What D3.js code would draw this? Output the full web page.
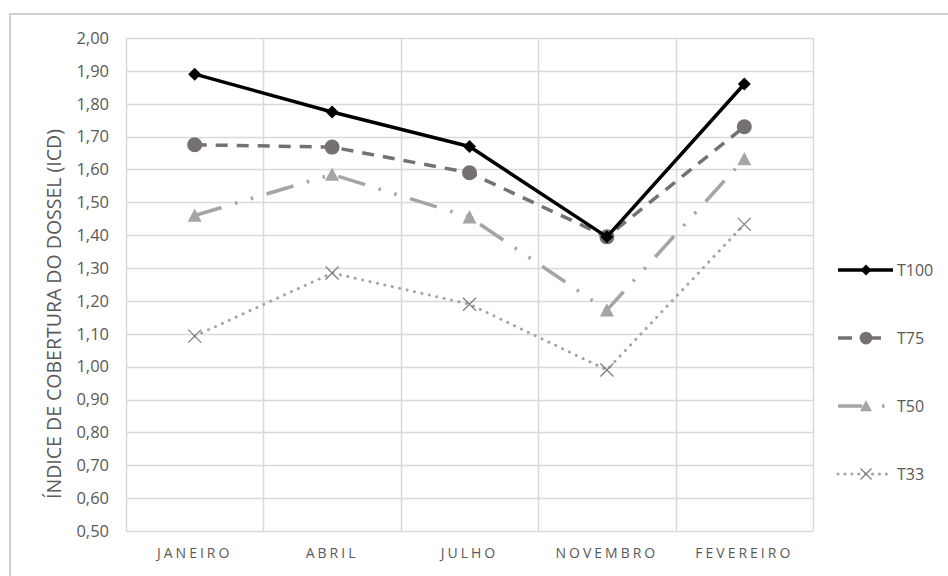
<!DOCTYPE html>
<html>
<head>
<meta charset="utf-8">
<script src="https://cdn.jsdelivr.net/npm/d3@7"></script>
<style>
  html, body { margin: 0; padding: 0; background: #fff; }
  svg { display: block; font-family: "Open Sans", sans-serif; }
</style>
</head>
<body>
<svg id="chart" width="948" height="576"></svg>
<script>
// Meses de avaliação
const months = ["JANEIRO", "ABRIL", "JULHO", "NOVEMBRO", "FEVEREIRO"];

// Índice de cobertura do dossel por tratamento
const t100 = [1.89, 1.775, 1.67, 1.395, 1.86];
const t75  = [1.675, 1.668, 1.59, 1.395, 1.73];
const t50  = [1.46, 1.585, 1.455, 1.172, 1.632];
const t33  = [1.093, 1.285, 1.19, 0.99, 1.433];

const seriesNames = ["T100", "T75", "T50", "T33"];
const yTicks = d3.range(0.5, 2.0001, 0.1);

const seriesList = [
  { name: seriesNames[0], values: t100, color: "#000000", width: 3.5, dash: null, legendDash: null, cap: "butt", marker: "diamond", mcolor: "#000000", lx2: 893 },
  { name: seriesNames[1], values: t75, color: "#767171", width: 3.5, dash: "12,9", legendDash: "14,20,9,40", cap: "butt", marker: "circle", mcolor: "#767171", lx2: 881 },
  { name: seriesNames[2], values: t50, color: "#a5a5a5", width: 3.5, dash: "28,14,2.5,14,2.5,14", legendDash: "24,20,2.5,40", cap: "butt", marker: "triangle", mcolor: "#a5a5a5", lx2: 885 },
  { name: seriesNames[3], values: t33, color: "#a5a5a5", width: 3, dash: "0.1,7.5", legendDash: "0.1,6.8", cap: "round", marker: "cross", mcolor: "#808080", lx2: 889 }
];

const svg = d3.select("#chart");

// Moldura da área do gráfico
svg.append("rect")
  .attr("x", 10).attr("y", 14)
  .attr("width", 960).attr("height", 600)
  .attr("fill", "none").attr("stroke", "#cfcfcf").attr("stroke-width", 2);

const plot = { left: 126, right: 813, top: 38, bottom: 531 };

const x = d3.scaleBand().domain(months).range([plot.left, plot.right]).padding(0);
const y = d3.scaleLinear().domain([0.5, 2.0]).range([plot.bottom, plot.top]);
const cx = m => x(m) + x.bandwidth() / 2;

// Grade horizontal
svg.append("g").selectAll("line").data(yTicks).join("line")
  .attr("x1", plot.left).attr("x2", plot.right)
  .attr("y1", d => Math.round(y(d)) + 0.5).attr("y2", d => Math.round(y(d)) + 0.5)
  .attr("stroke", "#d9d9d9").attr("stroke-width", 1.5);

// Grade vertical (limites das categorias)
const vlines = months.map(m => x(m)).concat([plot.right]);
svg.append("g").selectAll("line").data(vlines).join("line")
  .attr("x1", d => Math.round(d) + 0.5).attr("x2", d => Math.round(d) + 0.5)
  .attr("y1", plot.top).attr("y2", plot.bottom)
  .attr("stroke", "#d9d9d9").attr("stroke-width", 1.5);

// Eixo Y
const yAxis = d3.axisLeft(y).tickValues(yTicks)
  .tickFormat(d => d3.format(".2f")(d).replace(".", ","))
  .tickSize(0).tickPadding(17);
const gy = svg.append("g").attr("transform", `translate(${plot.left},0)`).call(yAxis);
gy.select(".domain").remove();
gy.selectAll("text").attr("fill", "#595959").style("font-size", "16.5px")
  .style("font-family", "'Open Sans', sans-serif");

// Eixo X
const xAxis = d3.axisBottom(x).tickSize(0).tickPadding(17);
const gx = svg.append("g").attr("transform", `translate(0,${plot.bottom})`).call(xAxis);
gx.select(".domain").remove();
gx.selectAll("text").attr("fill", "#595959").style("font-size", "14px")
  .style("font-family", "'Open Sans', sans-serif")
  .style("letter-spacing", "3px");

// Título do eixo Y, dimensionado ao comprimento disponível
const title = svg.append("text")
  .attr("transform", "translate(61,314) rotate(-90)")
  .attr("text-anchor", "middle")
  .attr("fill", "#595959").style("font-size", "15px")
  .text("ÍNDICE DE COBERTURA DO DOSSEL (ICD)");
const tlen = title.node().getComputedTextLength();
title.style("font-size", (15 * 370 / tlen).toFixed(2) + "px");

function drawMarker(g, kind, px, py, color, scale = 1) {
  if (kind === "diamond") {
    const s = 6.5 * scale;
    g.append("path").attr("d", `M${px},${py - s}L${px + s},${py}L${px},${py + s}L${px - s},${py}Z`).attr("fill", color);
  } else if (kind === "circle") {
    g.append("circle").attr("cx", px).attr("cy", py).attr("r", 7.5 * scale).attr("fill", color);
  } else if (kind === "triangle") {
    const s = 7 * scale;
    g.append("path").attr("d", `M${px},${py - s}L${px + s},${py + s * 0.9}L${px - s},${py + s * 0.9}Z`).attr("fill", color);
  } else if (kind === "cross") {
    const s = 6.5 * scale;
    g.append("path").attr("d", `M${px - s},${py - s}L${px + s},${py + s}M${px - s},${py + s}L${px + s},${py - s}`)
      .attr("stroke", color).attr("stroke-width", 1.3).attr("fill", "none");
  }
}

const line = d3.line().x((d, i) => cx(months[i])).y(d => y(d));

// Séries (desenhadas de trás para frente)
[...seriesList].reverse().forEach(s => {
  const g = svg.append("g");
  g.append("path").datum(s.values).attr("d", line)
    .attr("fill", "none").attr("stroke", s.color).attr("stroke-width", s.width)
    .attr("stroke-dasharray", s.dash).attr("stroke-linecap", s.cap).attr("stroke-linejoin", "round");
  s.values.forEach((v, i) => drawMarker(g, s.marker, cx(months[i]), y(v), s.mcolor));
});

// Legenda
const legendY = [270, 338, 406, 474];
seriesList.forEach((s, i) => {
  const g = svg.append("g");
  const ly = legendY[i];
  g.append("line").attr("x1", 838).attr("x2", s.lx2).attr("y1", ly).attr("y2", ly)
    .attr("stroke", s.color).attr("stroke-width", s.width)
    .attr("stroke-dasharray", s.legendDash).attr("stroke-linecap", s.cap);
  drawMarker(g, s.marker, 866, ly, s.mcolor, 0.85);
  g.append("text").attr("x", 897).attr("y", ly).attr("dy", "0.35em")
    .attr("fill", "#595959").style("font-size", "16px").text(s.name);
});
</script>
</body>
</html>
